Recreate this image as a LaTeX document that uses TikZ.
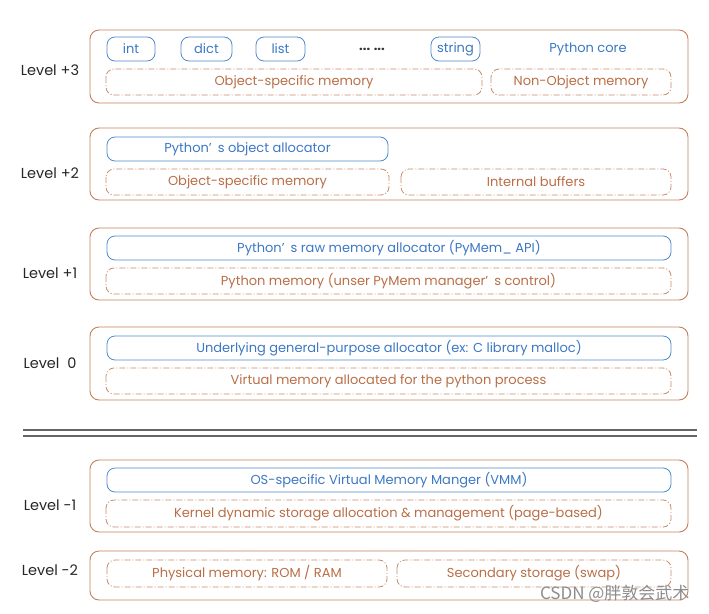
\documentclass[tikz,border=0pt]{standalone}
\usepackage{fontspec}
\setmainfont{Poppins}
\newfontfamily\cjkfont{Noto Sans CJK SC}
\begin{document}
\begin{tikzpicture}[x=1pt,y=-1pt,
  font=\fontsize{13}{15}\selectfont,
  levelbox/.style={draw=orangeline, line width=0.9pt, rounded corners=9pt},
  bluebox/.style={draw=blueline, line width=0.8pt, rounded corners=8pt, text=bluetext},
  dashbox/.style={draw=dashline, line width=0.8pt, rounded corners=8pt, text=browntext,
    dash pattern=on 6pt off 2pt on 1pt off 2pt},
  lvl/.style={text=black!85, anchor=center, font=\fontsize{14.5}{16}\selectfont},
]
\definecolor{orangeline}{RGB}{196,128,92}
\definecolor{dashline}{RGB}{200,140,105}
\definecolor{blueline}{RGB}{80,140,205}
\definecolor{bluetext}{RGB}{60,120,195}
\definecolor{browntext}{RGB}{185,110,70}
\useasboundingbox (0,0) rectangle (709,613);

% Level +3
\node[lvl] (l3) at (50,70) {Level +3};
\draw[levelbox] (90,30) rectangle (688,103);
\draw[bluebox] (107,37) rectangle (155,61) node[midway] (int) {int};
\draw[bluebox] (181,37) rectangle (232,61) node[midway] (dict) {dict};
\draw[bluebox] (256,37) rectangle (305,61) node[midway] (list) {list};
\node[text=black!80, font=\bfseries\fontsize{13}{15}\selectfont] (dots) at (372,49) {... ...};
\draw[bluebox] (431,37) rectangle (480,61) node[midway] (string) {string};
\node[text=bluetext] (core) at (588,49) {Python core};
\draw[dashbox] (106,69) rectangle (482,95) node[midway] (osm3) {Object-specific memory};
\draw[dashbox] (491,69) rectangle (671,95) node[midway] (nom) {Non-Object memory};

% Level +2
\node[lvl] (l2) at (50,173) {Level +2};
\draw[levelbox] (90,128) rectangle (688,200);
\draw[bluebox] (107,137) rectangle (388,161) node[midway] (poa) {Python’\hspace{6pt}s object allocator};
\draw[dashbox] (106,169) rectangle (389,195) node[midway] (osm2) {Object-specific memory};
\draw[dashbox] (401,169) rectangle (671,195) node[midway] (ib) {Internal buffers};

% Level +1
\node[lvl] (l1) at (50,273) {Level +1};
\draw[levelbox] (90,228) rectangle (688,300);
\draw[bluebox] (107,236) rectangle (671,260) node[midway] (raw) {Python’\hspace{6pt}s raw memory allocator (PyMem\_ API)};
\draw[dashbox] (106,268) rectangle (671,294) node[midway] (pm) {Python memory (unser PyMem manager’\hspace{6pt}s control)};

% Level 0
\node[lvl] (l0) at (50,363) {Level \ 0};
\draw[levelbox] (90,327) rectangle (688,400);
\draw[bluebox] (107,336) rectangle (671,360) node[midway] (ugp) {Underlying general-purpose allocator (ex: C library malloc)};
\draw[dashbox] (106,368) rectangle (671,394) node[midway] (vm) {Virtual memory allocated for the python process};

% separator
\draw[black!60, line width=1.4pt] (23,430) -- (697,430);
\draw[black!60, line width=1.4pt] (23,436) -- (697,436);

% Level -1
\node[lvl] (lm1) at (50,505) {Level -1};
\draw[levelbox] (90,460) rectangle (688,532);
\draw[bluebox] (107,468) rectangle (671,492) node[midway] (vmm) {OS-specific Virtual Memory Manger (VMM)};
\draw[dashbox] (106,500) rectangle (671,527) node[midway] (kd) {Kernel dynamic storage allocation \& management (page-based)};

% Level -2
\node[lvl] (lm2) at (50,570) {Level -2};
\draw[levelbox] (90,551) rectangle (688,600);
\draw[dashbox] (107,560) rectangle (387,587) node[midway] (phys) {Physical memory: ROM / RAM};
\draw[dashbox] (397,560) rectangle (671,587) node[midway] (sec) {Secondary storage (swap)};

% watermark
\node[text=black!45, anchor=east, font=\cjkfont\fontsize{17}{19}\selectfont] (wm) at (693,594) {CSDN @胖敦会武术};
\end{tikzpicture}
\end{document}
